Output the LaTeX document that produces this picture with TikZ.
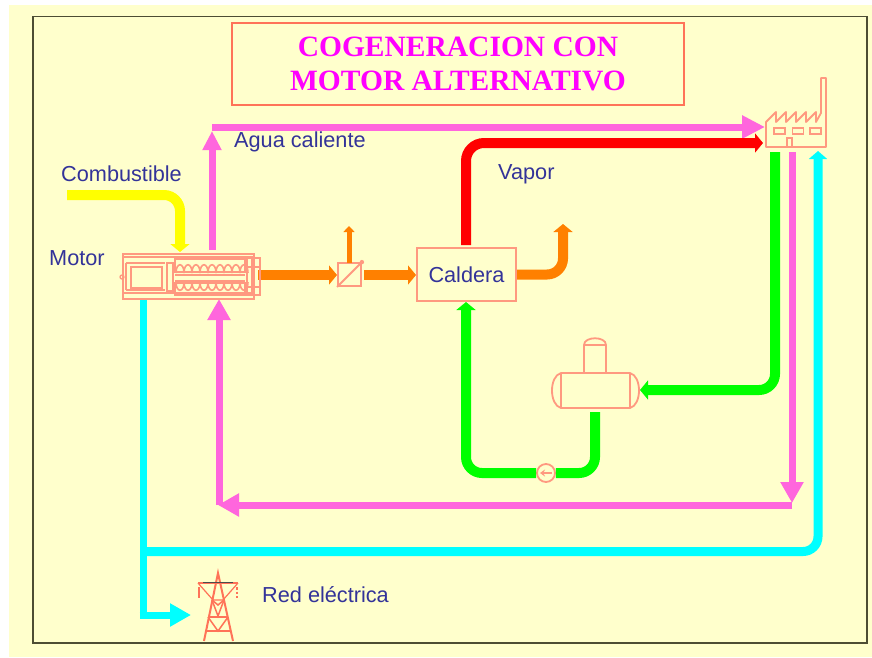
\documentclass[tikz,border=0pt]{standalone}
\usepackage{fontspec}
\setmainfont{Liberation Sans}
\newfontfamily\titlefont{Liberation Serif}
\usetikzlibrary{arrows.meta, calc, positioning}

\definecolor{paper}{HTML}{FFFFCC}
\definecolor{frameline}{HTML}{4D4D33}
\definecolor{labelblue}{HTML}{333399}
\definecolor{salmon}{HTML}{FF9980}
\definecolor{tomato}{HTML}{FF7358}
\definecolor{water}{HTML}{FF66DD}
\definecolor{heat}{HTML}{FF8000}
\definecolor{titlepink}{HTML}{FF00FF}
\definecolor{power}{HTML}{00FFFF}
\definecolor{fuel}{HTML}{FFFF00}
\definecolor{steam}{HTML}{FF0000}
\definecolor{feed}{HTML}{00FF00}

\tikzset{
  pipe/.style={line width=10pt, rounded corners=16pt},
  thinpipe/.style={line width=7pt, rounded corners=14pt},
  blunttip/.style={-{Triangle[length=8pt,width=19pt]}},
  widetip/.style={-{Triangle[length=21pt,width=22pt]}},
  tag/.style={text=labelblue, font=\fontsize{21.7}{26}\selectfont, inner sep=0pt, anchor=west},
  part/.style={draw=salmon, line width=1.8pt, fill=paper}
}

\begin{document}
\begin{tikzpicture}[x=1pt, y=-1pt]
  \useasboundingbox (0,0) rectangle (872,657);
  \fill[paper] (9,5) rectangle (872,657);
  \draw[frameline, line width=1.5pt] (33,16.5) rectangle (867,643);

  %% title
  \node[draw=tomato, line width=2pt, minimum width=452pt, minimum height=82pt, inner sep=0pt,
        align=center, text=titlepink, font=\titlefont\bfseries\fontsize{29.5}{34}\selectfont]
    (title) at (458,64) {\raisebox{-1.5pt}{COGENERACION CON}\\\raisebox{-1.5pt}{MOTOR ALTERNATIVO}};

  %% plant
  \node[part, fill=none, line width=2pt, minimum width=99pt, minimum height=53pt, inner sep=0pt,
        font=\fontsize{21.7}{26}\selectfont, text=labelblue] (caldera) at (466.5,274.5) {Caldera};
  \node[part, minimum size=23pt, inner sep=0pt] (cooler) at (349.5,274.5) {};
  \node[part, circle, minimum size=18pt, inner sep=0pt] (pump) at (546,473) {};
  \node[minimum width=131pt, minimum height=45pt, inner sep=0pt] (motor) at (188.5,276.5) {};

  \coordinate (fuelin) at (67,195);
  \coordinate (fuelend) at (180,252);
  \coordinate (hotout) at (212,250);
  \coordinate (hottop) at (212,131);
  \coordinate (hotstart) at (212,127);
  \coordinate (hotend) at (765,127);
  \coordinate (steamout) at (466,245);
  \coordinate (steamend) at (763,143);
  \coordinate (stackend) at (563,224);
  \coordinate (ventstart) at (349,263);
  \coordinate (ventend) at (349,226);
  \coordinate (motorout) at (258,275);
  \coordinate (coolerin) at (337,275);
  \coordinate (coolerout) at (364,275);
  \coordinate (calderain) at (416,275);
  \coordinate (tankout) at (595,412);
  \coordinate (feedend) at (466,302);
  \coordinate (condstart) at (775,152);
  \coordinate (tankin) at (640,390);
  \coordinate (retstart) at (792,152);
  \coordinate (retend) at (792,503);
  \coordinate (retcorner) at (792,505);
  \coordinate (retleft) at (218,505);
  \coordinate (motorback) at (219,299);
  \coordinate (retfoot) at (219,505);
  \coordinate (powerout) at (143,299);
  \coordinate (powercorner) at (143,615);
  \coordinate (powerend) at (191,615);
  \coordinate (powerjoin) at (143,551.5);
  \coordinate (factoryend) at (818,151);

  %% flows
  \draw[fuel, pipe, blunttip] (fuelin) -| (fuelend);
  \draw[water, thinpipe, -{Triangle[length=19pt,width=18pt]}] (hotout) -- (hottop);
  \draw[water, thinpipe, -{Triangle[length=23pt,width=22pt]}] (hotstart) -- (hotend);
  \draw[steam, pipe, rounded corners=18pt, blunttip] (steamout) |- (steamend);
  \draw[heat, pipe, blunttip] (motorout) -- (coolerin);
  \draw[heat, line width=5pt, -{Triangle[length=6pt,width=11pt]}] (ventstart) -- (ventend);
  \draw[heat, pipe, blunttip] (coolerout) -- (calderain);
  \draw[heat, pipe, blunttip] (caldera.east) -| (stackend);
  \draw[feed, pipe] (tankout) |- (pump);
  \draw[feed, pipe, blunttip] (pump) -| (feedend);
  \draw[feed, pipe, blunttip] (condstart) |- (tankin);
  \draw[water, thinpipe, widetip] (retstart) -- (retend);
  \draw[water, thinpipe, widetip] (retcorner) -- (retleft);
  \draw[water, thinpipe, widetip] (retfoot) -- (motorback);
  \draw[power, line width=7pt] (powerout) -- (powercorner);
  \draw[power, line width=7pt, widetip] ($(powercorner)+(-3.5,0)$) -- (powerend);
  \draw[power, line width=9pt, rounded corners=15pt, -{Triangle[length=8pt,width=18pt]}] (powerjoin) -| (factoryend);

  %% cooler and pump details
  \draw[salmon, line width=1.8pt] (cooler.south west) -- (cooler.north east);
  \fill[salmon] (cooler.north east) circle (2.2pt);
  \draw[salmon, line width=1.8pt, -{Stealth[length=5pt,width=7pt]}]
    ($(pump)+(6,0)$) -- ($(pump)+(-6,0)$);

  %% motor
  \begin{scope}[salmon, line width=1.3pt]
    \draw (123,254) rectangle (254,299);
    \draw (123,257) -- (254,257) (123,293) -- (254,293);
    \draw (122,277) circle (2pt);
    \draw[line width=2pt] (126,263) -- (165,263) (126,263) -- (126,290) (126,290) -- (165,290);
    \draw (131,267) rectangle (162,288);
    \draw (167,263) rectangle (173,291);
    \draw (175,259) rectangle (245,272);
    \draw (175,283) rectangle (245,295);
    \draw[line width=2pt] (175,275) -- (245,275) (175,281) -- (245,281);
    \foreach \x in {176,184,...,240} {
      \draw[line width=1.6pt] (\x,273) .. controls (\x,262) and (\x+8,262) .. (\x+8,273);
      \draw[line width=1.6pt] (\x,282) .. controls (\x,293) and (\x+8,293) .. (\x+8,282);
    }
    \draw[line width=2pt] (247,258) rectangle (260,295);
    \draw[line width=2pt] (247,267) -- (260,267) (247,287) -- (260,287);
    \draw (252,258) -- (252,295);
  \end{scope}

  %% factory
  \draw[salmon, line width=1.8pt, line join=round]
    (766,147) -- (766,122) -- (776,112) -- (776,122) -- (786,112) -- (786,122)
    -- (796,112) -- (796,122) -- (806,112) -- (806,122) -- (816,112) -- (816,122)
    -- (821,113) -- (821,78) -- (826,78) -- (826,147) -- cycle;
  \foreach \x in {774,792.5,810} {
    \draw[salmon, line width=1.8pt] (\x,128) rectangle (\x+11,134);
  }
  \draw[salmon, line width=1.8pt] (787,147) -- (787,138) -- (792,138) -- (792,147);

  %% tank
  \draw[part] (584,373) -- (584,345) .. controls (584,336) and (606,336) .. (606,345) -- (606,373);
  \draw[salmon, line width=1.8pt] (584,345) -- (606,345);
  \draw[part] (561,373) -- (630,373) .. controls (642,376) and (642,405) .. (630,408)
    -- (561,408) .. controls (549,405) and (549,376) .. (561,373) -- cycle;
  \draw[salmon, line width=1.8pt] (561,373) -- (561,408) (630,373) -- (630,408);

  %% tower
  \begin{scope}[tomato, line width=2pt]
    \draw (204,641) -- (218,573) -- (233,641);
    \draw (198,583) -- (238,583);
    \draw[black!70, line width=1pt] (203,582.5) -- (233,582.5);
    \draw[line width=1.2pt] (198,583) -- (213,600) -- (223,600) -- (238,583);
    \draw[line width=1.5pt] (212,600) -- (218,605) -- (224,600);
    \draw[line width=1.5pt] (212,600) -- (218,616) -- (224,600);
    \draw[line width=1.5pt] (208,617) -- (228,617);
    \draw[line width=1.5pt] (208,617) -- (218,631) -- (228,617);
    \draw[line width=1.5pt] (205,631) -- (231,631);
    \draw[line width=2.5pt] (199,587) -- (199,598);
    \draw[line width=2.5pt, dotted] (237,587) -- (237,598);
  \end{scope}

  %% labels
  \node[tag] (combustible) at (61,174) {Combustible};
  \node[tag, below=71pt of combustible.south west, anchor=north west, yshift=3pt, xshift=-12pt] (motorlabel) {Motor};
  \node[tag] (agua) at (234,141.5) {Agua caliente};
  \node[tag] (vapor) at (498,174.5) {Vapor};
  \node[tag] (red) at (262,595) {Red eléctrica};
\end{tikzpicture}
\end{document}
